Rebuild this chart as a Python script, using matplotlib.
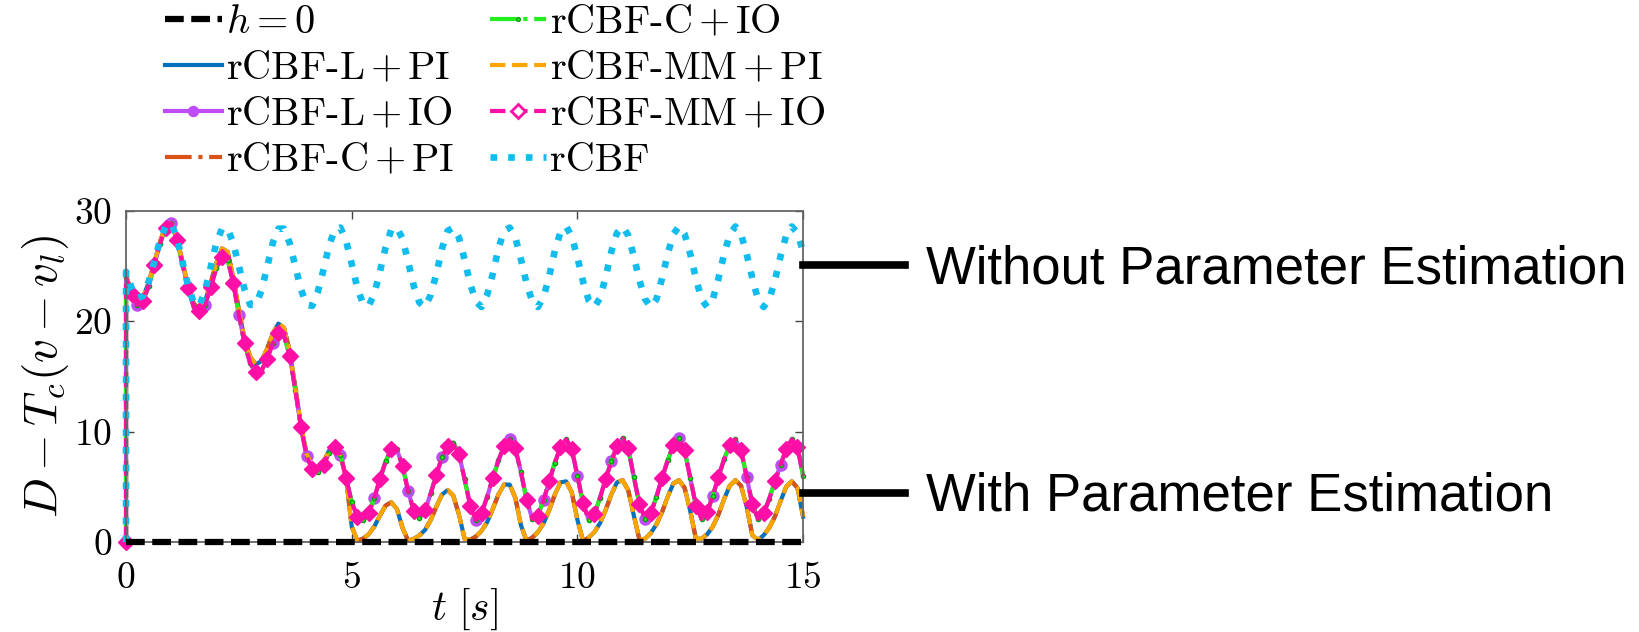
import numpy as np
import matplotlib
matplotlib.use('Agg')
from matplotlib import pyplot as plt
from matplotlib.lines import Line2D

plt.rcParams['font.family'] = 'cmr10'
plt.rcParams['mathtext.fontset'] = 'cm'
plt.rcParams['axes.formatter.use_mathtext'] = True

# sampled every 0.125 s from 0 to 15 s; the leading 0 is the value at t=0 before the jump
dt = 0.125
pi_vals = [0.0,
    24.0, 22.8, 22.0, 22.2, 23.5, 25.3, 27.2, 28.6,
    28.9, 27.6, 25.4, 23.2, 21.6, 21.1, 21.8, 23.5,
    25.3, 26.6, 26.3, 24.0, 21.0, 18.4, 16.8, 16.1,
    16.4, 17.5, 18.9, 19.8, 19.4, 17.3, 14.0, 10.6,
    8.0, 6.9, 6.7, 7.3, 8.3, 8.7, 7.9, 5.8,
    1.4, 0.1, 0.3, 0.7, 1.4, 2.4, 3.3, 3.6,
    3.0, 1.3, 0.1, 0.3, 0.6, 1.1, 2.0, 3.2,
    4.3, 4.7, 4.2, 2.5, 0.3, 0.2, 0.5, 1.0,
    1.8, 3.0, 4.3, 5.2, 5.2, 4.0, 1.5, 0.1,
    0.4, 0.9, 1.7, 2.9, 4.3, 5.4, 5.5, 4.5,
    2.0, 0.1, 0.4, 0.9, 1.7, 2.9, 4.3, 5.4,
    5.6, 4.7, 2.4, 0.2, 0.3, 0.8, 1.6, 2.7,
    4.1, 5.3, 5.6, 4.9, 2.8, 0.3, 0.3, 0.7,
    1.4, 2.5, 3.9, 5.1, 5.6, 5.1, 3.2, 0.6,
    0.2, 0.6, 1.3, 2.3, 3.7, 5.0, 5.5, 4.9,
    2.3]
io_vals = [0.0,
    24.0, 22.5, 21.5, 21.8, 23.2, 25.1, 27.0, 28.5,
    28.9, 27.4, 25.2, 23.0, 21.3, 20.9, 21.5, 23.1,
    24.8, 25.8, 25.6, 23.5, 20.6, 18.0, 16.2, 15.4,
    15.5, 16.6, 18.0, 18.9, 18.7, 16.9, 13.8, 10.4,
    7.8, 6.6, 6.3, 7.0, 8.1, 8.6, 7.9, 5.8,
    3.6, 2.3, 2.0, 2.6, 4.0, 5.7, 7.3, 8.4,
    8.4, 6.9, 4.6, 2.8, 2.2, 2.9, 4.4, 6.1,
    7.7, 8.7, 9.0, 8.0, 5.7, 3.3, 2.0, 2.6,
    4.1, 5.8, 7.4, 8.7, 9.3, 8.5, 6.3, 3.8,
    2.1, 2.4, 3.8, 5.5, 7.2, 8.6, 9.3, 8.4,
    6.0, 3.5, 2.0, 2.5, 4.0, 5.7, 7.3, 8.7,
    9.4, 8.5, 5.9, 3.4, 2.1, 2.6, 4.1, 5.8,
    7.4, 8.8, 9.4, 8.3, 5.8, 3.3, 2.1, 2.7,
    4.2, 5.9, 7.5, 8.8, 9.3, 8.3, 5.9, 3.4,
    2.1, 2.6, 3.9, 5.5, 7.0, 8.4, 9.3, 8.6,
    6.0]
rcbf_vals = [0.0,
    24.5, 23.0, 22.1, 22.3, 23.6, 25.4, 27.3, 28.6,
    28.9, 27.6, 25.4, 23.2, 21.7, 21.4, 22.8, 24.9,
    27.1, 28.4, 28.4, 27.1, 25.0, 22.9, 21.5, 21.5,
    22.8, 24.9, 27.1, 28.4, 28.4, 27.1, 25.0, 22.9,
    21.5, 21.4, 22.7, 24.7, 26.9, 28.3, 28.5, 27.3,
    25.2, 23.0, 21.6, 21.4, 22.5, 24.5, 26.7, 28.3,
    28.5, 27.5, 25.4, 23.2, 21.7, 21.3, 22.4, 24.3,
    26.6, 28.2, 28.5, 27.6, 25.6, 23.4, 21.8, 21.3,
    22.4, 24.3, 26.6, 28.2, 28.5, 27.6, 25.6, 23.4,
    21.8, 21.3, 22.2, 24.1, 26.4, 28.1, 28.6, 27.7,
    25.8, 23.6, 21.9, 21.3, 22.1, 24.0, 26.3, 28.0,
    28.6, 27.8, 25.9, 23.7, 22.0, 21.3, 22.0, 23.9,
    26.1, 27.9, 28.6, 27.9, 26.1, 23.9, 22.0, 21.3,
    22.0, 23.9, 26.1, 27.9, 28.6, 27.9, 26.1, 23.9,
    22.0, 21.3, 22.0, 23.7, 25.9, 27.8, 28.6, 28.0,
    26.3]
t_end = 15
t = np.concatenate([[0.0], np.arange(len(pi_vals) - 1) * dt])
h0 = np.zeros_like(t)

fig = plt.figure(figsize=(16.39, 6.32), dpi=100)
ax = fig.add_axes([0.0769, 0.1424, 0.4131, 0.5237])

lw = 3.0
l_lpi, = ax.plot(t, pi_vals, '-', color='#0072BD', lw=lw, label=r'rCBF-L$\,$+$\,$PI')
l_lio, = ax.plot(t, io_vals, '-', color='#C04CF7', lw=lw, marker='o', ms=8,
                 markevery=(0, 3), label=r'rCBF-L$\,$+$\,$IO')
l_cpi, = ax.plot(t, pi_vals, '-.', color='#D95319', lw=lw, label=r'rCBF-C$\,$+$\,$PI')
l_cio, = ax.plot(t, io_vals, '-.', color='#22F01E', lw=lw, marker='.', ms=6,
                 markeredgecolor='#0A9A0A', markevery=(1, 2), label=r'rCBF-C$\,$+$\,$IO')
l_mpi, = ax.plot(t, pi_vals, '--', color='#F9A602', lw=lw, label=r'rCBF-MM$\,$+$\,$PI')
l_mio, = ax.plot(t, io_vals, '--', color='#FF0FA5', lw=lw, marker='D', ms=8.5,
                 markevery=(0, 2), label=r'rCBF-MM$\,$+$\,$IO')
l_rcbf, = ax.plot(t, rcbf_vals, ':', color='#12BDEE', lw=4.8, label='rCBF')
l_h0, = ax.plot(t, h0, color='k', lw=4.5, dashes=(3, 1.2), label=r'$h=0$', zorder=5)
for ln in ax.get_lines():
    ln.set_clip_on(False)

ax.set_xlim(0, t_end)
ax.set_ylim(0, 30)
ax.set_xticks([0, 5, 10, 15])
ax.set_yticks([0, 10, 20, 30])
ax.tick_params(direction='in', length=6, width=1, top=True, right=True,
               labelsize=27, color='#444444')
ax.tick_params(axis='x', pad=14)
ax.tick_params(axis='y', pad=10)
for sp in ax.spines.values():
    sp.set_color('#666666')
    sp.set_linewidth(1.3)
ax.set_xlabel(r'$t\ [s]$', fontsize=30, labelpad=-6)
ax.set_ylabel(r'$D-T_c(v-v_l)$', fontsize=34, labelpad=2)

# legend: open diamond for the MM+IO entry
mio_proxy = Line2D([], [], ls='--', color='#FF0FA5', lw=lw, marker='D', ms=8,
                   mfc='white', mew=2, label=l_mio.get_label())
handles = [l_h0, l_lpi, l_lio, l_cpi, l_cio, l_mpi, mio_proxy, l_rcbf]
fig.legend(handles=handles, ncol=2, loc='upper left', bbox_to_anchor=(0.086, 1.03),
           frameon=False, fontsize=29, handlelength=1.4, handletextpad=0.1,
           columnspacing=0.9, labelspacing=0.24, borderpad=0.1, markerscale=0.9)

# annotations on the right
for yy in [0.5807, 0.2199]:
    fig.add_artist(Line2D([0.4899, 0.552], [yy, yy], transform=fig.transFigure,
                          color='k', lw=5.5))
fig.text(0.565, 0.5522, 'Without Parameter Estimation', fontsize=38,
         family='Liberation Sans', va='baseline')
fig.text(0.565, 0.1915, 'With Parameter Estimation', fontsize=38,
         family='Liberation Sans', va='baseline')

fig.savefig('out.png', dpi=100)
